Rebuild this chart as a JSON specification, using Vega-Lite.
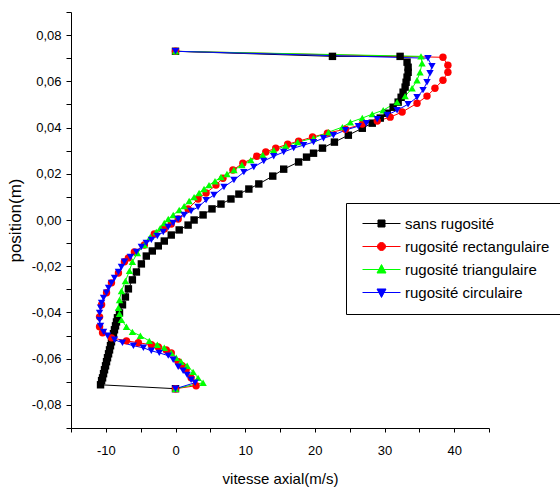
{
"$schema": "https://vega.github.io/schema/vega-lite/v6.json",
"width": 418, "height": 416,
"autosize": {"type": "none"},
"padding": {"left": 71, "top": 12, "right": 71, "bottom": 66},
"background": "white",
"config": {"view": {"stroke": null}, "axis": {"grid": false, "domainColor": "black", "tickColor": "black", "labelColor": "black", "titleColor": "black", "labelFont": "Liberation Sans", "titleFont": "Liberation Sans", "titleFontWeight": "normal"}},
"data": {"values": [
{"s":"sans rugosité","v":0,"p":0.073},
{"s":"sans rugosité","v":22.53,"p":0.0708},
{"s":"sans rugosité","v":32.24,"p":0.0708},
{"s":"sans rugosité","v":33.24,"p":0.0683},
{"s":"sans rugosité","v":33.39,"p":0.0661},
{"s":"sans rugosité","v":33.39,"p":0.0639},
{"s":"sans rugosité","v":33.24,"p":0.0618},
{"s":"sans rugosité","v":33.10,"p":0.0596},
{"s":"sans rugosité","v":32.96,"p":0.0575},
{"s":"sans rugosité","v":32.67,"p":0.0553},
{"s":"sans rugosité","v":32.39,"p":0.0531},
{"s":"sans rugosité","v":31.96,"p":0.0510},
{"s":"sans rugosité","v":31.24,"p":0.0488},
{"s":"sans rugosité","v":30.39,"p":0.0462},
{"s":"sans rugosité","v":29.39,"p":0.0441},
{"s":"sans rugosité","v":28.24,"p":0.0419},
{"s":"sans rugosité","v":26.81,"p":0.0397},
{"s":"sans rugosité","v":24.81,"p":0.0367},
{"s":"sans rugosité","v":22.81,"p":0.0337},
{"s":"sans rugosité","v":21.10,"p":0.0311},
{"s":"sans rugosité","v":19.81,"p":0.0289},
{"s":"sans rugosité","v":18.81,"p":0.0272},
{"s":"sans rugosité","v":17.67,"p":0.0251},
{"s":"sans rugosité","v":15.53,"p":0.0220},
{"s":"sans rugosité","v":13.96,"p":0.0190},
{"s":"sans rugosité","v":11.96,"p":0.0156},
{"s":"sans rugosité","v":10.53,"p":0.0134},
{"s":"sans rugosité","v":9.10,"p":0.0112},
{"s":"sans rugosité","v":7.96,"p":0.0091},
{"s":"sans rugosité","v":6.53,"p":0.0069},
{"s":"sans rugosité","v":5.24,"p":0.0048},
{"s":"sans rugosité","v":3.96,"p":0.0022},
{"s":"sans rugosité","v":2.67,"p":0.0},
{"s":"sans rugosité","v":1.81,"p":-0.0022},
{"s":"sans rugosité","v":0.53,"p":-0.0043},
{"s":"sans rugosité","v":-0.61,"p":-0.0065},
{"s":"sans rugosité","v":-1.61,"p":-0.0091},
{"s":"sans rugosité","v":-2.47,"p":-0.0112},
{"s":"sans rugosité","v":-3.33,"p":-0.0134},
{"s":"sans rugosité","v":-4.19,"p":-0.0156},
{"s":"sans rugosité","v":-4.90,"p":-0.0190},
{"s":"sans rugosité","v":-5.61,"p":-0.0225},
{"s":"sans rugosité","v":-6.19,"p":-0.0259},
{"s":"sans rugosité","v":-6.76,"p":-0.0298},
{"s":"sans rugosité","v":-7.19,"p":-0.0333},
{"s":"sans rugosité","v":-7.61,"p":-0.0367},
{"s":"sans rugosité","v":-8.04,"p":-0.0402},
{"s":"sans rugosité","v":-8.33,"p":-0.0423},
{"s":"sans rugosité","v":-8.47,"p":-0.0441},
{"s":"sans rugosité","v":-8.61,"p":-0.0458},
{"s":"sans rugosité","v":-8.76,"p":-0.0475},
{"s":"sans rugosité","v":-8.90,"p":-0.0492},
{"s":"sans rugosité","v":-9.04,"p":-0.0510},
{"s":"sans rugosité","v":-9.19,"p":-0.0527},
{"s":"sans rugosité","v":-9.33,"p":-0.0544},
{"s":"sans rugosité","v":-9.47,"p":-0.0562},
{"s":"sans rugosité","v":-9.61,"p":-0.0579},
{"s":"sans rugosité","v":-9.76,"p":-0.0596},
{"s":"sans rugosité","v":-9.90,"p":-0.0613},
{"s":"sans rugosité","v":-10.04,"p":-0.0631},
{"s":"sans rugosité","v":-10.19,"p":-0.0648},
{"s":"sans rugosité","v":-10.33,"p":-0.0665},
{"s":"sans rugosité","v":-10.47,"p":-0.0683},
{"s":"sans rugosité","v":-10.61,"p":-0.0695},
{"s":"sans rugosité","v":-10.76,"p":-0.0713},
{"s":"sans rugosité","v":0,"p":-0.073},
{"s":"rugosité rectangulaire","v":0,"p":0.073},
{"s":"rugosité rectangulaire","v":38.39,"p":0.0704},
{"s":"rugosité rectangulaire","v":39.10,"p":0.0670},
{"s":"rugosité rectangulaire","v":39.10,"p":0.0639},
{"s":"rugosité rectangulaire","v":38.39,"p":0.0605},
{"s":"rugosité rectangulaire","v":37.24,"p":0.0570},
{"s":"rugosité rectangulaire","v":36.10,"p":0.0536},
{"s":"rugosité rectangulaire","v":34.67,"p":0.0505},
{"s":"rugosité rectangulaire","v":32.53,"p":0.0467},
{"s":"rugosité rectangulaire","v":30.81,"p":0.0445},
{"s":"rugosité rectangulaire","v":28.96,"p":0.0428},
{"s":"rugosité rectangulaire","v":26.81,"p":0.0415},
{"s":"rugosité rectangulaire","v":24.39,"p":0.0393},
{"s":"rugosité rectangulaire","v":21.81,"p":0.0376},
{"s":"rugosité rectangulaire","v":19.67,"p":0.0359},
{"s":"rugosité rectangulaire","v":17.67,"p":0.0341},
{"s":"rugosité rectangulaire","v":16.10,"p":0.0328},
{"s":"rugosité rectangulaire","v":14.39,"p":0.0311},
{"s":"rugosité rectangulaire","v":12.96,"p":0.0294},
{"s":"rugosité rectangulaire","v":11.67,"p":0.0276},
{"s":"rugosité rectangulaire","v":9.67,"p":0.0246},
{"s":"rugosité rectangulaire","v":8.24,"p":0.0216},
{"s":"rugosité rectangulaire","v":6.81,"p":0.0181},
{"s":"rugosité rectangulaire","v":5.81,"p":0.0151},
{"s":"rugosité rectangulaire","v":4.39,"p":0.0117},
{"s":"rugosité rectangulaire","v":3.24,"p":0.0091},
{"s":"rugosité rectangulaire","v":1.81,"p":0.0048},
{"s":"rugosité rectangulaire","v":0.39,"p":0.0004},
{"s":"rugosité rectangulaire","v":-0.61,"p":-0.0017},
{"s":"rugosité rectangulaire","v":-1.61,"p":-0.0039},
{"s":"rugosité rectangulaire","v":-3.04,"p":-0.0060},
{"s":"rugosité rectangulaire","v":-4.47,"p":-0.0108},
{"s":"rugosité rectangulaire","v":-5.90,"p":-0.0138},
{"s":"rugosité rectangulaire","v":-6.76,"p":-0.0164},
{"s":"rugosité rectangulaire","v":-7.33,"p":-0.0181},
{"s":"rugosité rectangulaire","v":-8.19,"p":-0.0229},
{"s":"rugosité rectangulaire","v":-9.19,"p":-0.0272},
{"s":"rugosité rectangulaire","v":-9.90,"p":-0.0315},
{"s":"rugosité rectangulaire","v":-10.61,"p":-0.0367},
{"s":"rugosité rectangulaire","v":-10.90,"p":-0.0419},
{"s":"rugosité rectangulaire","v":-10.90,"p":-0.0462},
{"s":"rugosité rectangulaire","v":-10.47,"p":-0.0488},
{"s":"rugosité rectangulaire","v":-9.19,"p":-0.0510},
{"s":"rugosité rectangulaire","v":-7.04,"p":-0.0523},
{"s":"rugosité rectangulaire","v":-5.33,"p":-0.0531},
{"s":"rugosité rectangulaire","v":-3.47,"p":-0.0540},
{"s":"rugosité rectangulaire","v":-2.47,"p":-0.0549},
{"s":"rugosité rectangulaire","v":-1.33,"p":-0.0562},
{"s":"rugosité rectangulaire","v":-0.61,"p":-0.0575},
{"s":"rugosité rectangulaire","v":0.39,"p":-0.0613},
{"s":"rugosité rectangulaire","v":0.96,"p":-0.0631},
{"s":"rugosité rectangulaire","v":1.53,"p":-0.0648},
{"s":"rugosité rectangulaire","v":2.24,"p":-0.0683},
{"s":"rugosité rectangulaire","v":2.96,"p":-0.0717},
{"s":"rugosité rectangulaire","v":0,"p":-0.073},
{"s":"rugosité triangulaire","v":0,"p":0.073},
{"s":"rugosité triangulaire","v":35.24,"p":0.0708},
{"s":"rugosité triangulaire","v":35.39,"p":0.0678},
{"s":"rugosité triangulaire","v":35.10,"p":0.0639},
{"s":"rugosité triangulaire","v":34.67,"p":0.0605},
{"s":"rugosité triangulaire","v":33.96,"p":0.0570},
{"s":"rugosité triangulaire","v":32.96,"p":0.0536},
{"s":"rugosité triangulaire","v":31.81,"p":0.0510},
{"s":"rugosité triangulaire","v":29.81,"p":0.0475},
{"s":"rugosité triangulaire","v":28.24,"p":0.0458},
{"s":"rugosité triangulaire","v":26.81,"p":0.0441},
{"s":"rugosité triangulaire","v":25.10,"p":0.0423},
{"s":"rugosité triangulaire","v":23.96,"p":0.0402},
{"s":"rugosité triangulaire","v":21.96,"p":0.0380},
{"s":"rugosité triangulaire","v":19.81,"p":0.0354},
{"s":"rugosité triangulaire","v":17.53,"p":0.0337},
{"s":"rugosité triangulaire","v":15.81,"p":0.0320},
{"s":"rugosité triangulaire","v":14.10,"p":0.0302},
{"s":"rugosité triangulaire","v":12.53,"p":0.0281},
{"s":"rugosité triangulaire","v":10.81,"p":0.0259},
{"s":"rugosité triangulaire","v":9.53,"p":0.0238},
{"s":"rugosité triangulaire","v":8.39,"p":0.0216},
{"s":"rugosité triangulaire","v":7.39,"p":0.0199},
{"s":"rugosité triangulaire","v":6.53,"p":0.0186},
{"s":"rugosité triangulaire","v":5.67,"p":0.0168},
{"s":"rugosité triangulaire","v":4.81,"p":0.0151},
{"s":"rugosité triangulaire","v":4.10,"p":0.0134},
{"s":"rugosité triangulaire","v":3.39,"p":0.0117},
{"s":"rugosité triangulaire","v":2.67,"p":0.0099},
{"s":"rugosité triangulaire","v":1.96,"p":0.0082},
{"s":"rugosité triangulaire","v":1.24,"p":0.0060},
{"s":"rugosité triangulaire","v":0.53,"p":0.0043},
{"s":"rugosité triangulaire","v":-0.33,"p":0.0022},
{"s":"rugosité triangulaire","v":-1.04,"p":0.0004},
{"s":"rugosité triangulaire","v":-1.61,"p":-0.0013},
{"s":"rugosité triangulaire","v":-2.19,"p":-0.0035},
{"s":"rugosité triangulaire","v":-2.76,"p":-0.0052},
{"s":"rugosité triangulaire","v":-3.61,"p":-0.0073},
{"s":"rugosité triangulaire","v":-4.47,"p":-0.0108},
{"s":"rugosité triangulaire","v":-5.47,"p":-0.0143},
{"s":"rugosité triangulaire","v":-6.19,"p":-0.0181},
{"s":"rugosité triangulaire","v":-6.61,"p":-0.0220},
{"s":"rugosité triangulaire","v":-7.19,"p":-0.0264},
{"s":"rugosité triangulaire","v":-7.76,"p":-0.0307},
{"s":"rugosité triangulaire","v":-8.04,"p":-0.0346},
{"s":"rugosité triangulaire","v":-8.19,"p":-0.0380},
{"s":"rugosité triangulaire","v":-8.04,"p":-0.0406},
{"s":"rugosité triangulaire","v":-7.76,"p":-0.0432},
{"s":"rugosité triangulaire","v":-7.04,"p":-0.0462},
{"s":"rugosité triangulaire","v":-6.19,"p":-0.0484},
{"s":"rugosité triangulaire","v":-5.04,"p":-0.0501},
{"s":"rugosité triangulaire","v":-3.76,"p":-0.0523},
{"s":"rugosité triangulaire","v":-2.61,"p":-0.0540},
{"s":"rugosité triangulaire","v":-1.61,"p":-0.0553},
{"s":"rugosité triangulaire","v":-0.61,"p":-0.0575},
{"s":"rugosité triangulaire","v":0.10,"p":-0.0596},
{"s":"rugosité triangulaire","v":0.81,"p":-0.0613},
{"s":"rugosité triangulaire","v":1.67,"p":-0.0631},
{"s":"rugosité triangulaire","v":2.53,"p":-0.0657},
{"s":"rugosité triangulaire","v":3.24,"p":-0.0683},
{"s":"rugosité triangulaire","v":3.96,"p":-0.0704},
{"s":"rugosité triangulaire","v":0,"p":-0.073},
{"s":"rugosité circulaire","v":0,"p":0.073},
{"s":"rugosité circulaire","v":36.24,"p":0.0700},
{"s":"rugosité circulaire","v":36.81,"p":0.0665},
{"s":"rugosité circulaire","v":36.53,"p":0.0635},
{"s":"rugosité circulaire","v":36.10,"p":0.0596},
{"s":"rugosité circulaire","v":35.53,"p":0.0562},
{"s":"rugosité circulaire","v":34.67,"p":0.0531},
{"s":"rugosité circulaire","v":33.39,"p":0.0501},
{"s":"rugosité circulaire","v":31.81,"p":0.0475},
{"s":"rugosité circulaire","v":30.39,"p":0.0454},
{"s":"rugosité circulaire","v":28.96,"p":0.0436},
{"s":"rugosité circulaire","v":27.39,"p":0.0419},
{"s":"rugosité circulaire","v":26.24,"p":0.0406},
{"s":"rugosité circulaire","v":24.39,"p":0.0389},
{"s":"rugosité circulaire","v":22.67,"p":0.0367},
{"s":"rugosité circulaire","v":21.24,"p":0.0354},
{"s":"rugosité circulaire","v":19.81,"p":0.0337},
{"s":"rugosité circulaire","v":18.39,"p":0.0324},
{"s":"rugosité circulaire","v":16.96,"p":0.0311},
{"s":"rugosité circulaire","v":15.53,"p":0.0294},
{"s":"rugosité circulaire","v":14.10,"p":0.0276},
{"s":"rugosité circulaire","v":12.67,"p":0.0255},
{"s":"rugosité circulaire","v":11.24,"p":0.0229},
{"s":"rugosité circulaire","v":9.81,"p":0.0207},
{"s":"rugosité circulaire","v":8.39,"p":0.0173},
{"s":"rugosité circulaire","v":6.96,"p":0.0143},
{"s":"rugosité circulaire","v":5.53,"p":0.0108},
{"s":"rugosité circulaire","v":4.39,"p":0.0086},
{"s":"rugosité circulaire","v":3.24,"p":0.0056},
{"s":"rugosité circulaire","v":2.24,"p":0.0039},
{"s":"rugosité circulaire","v":1.24,"p":0.0022},
{"s":"rugosité circulaire","v":0.39,"p":0.0004},
{"s":"rugosité circulaire","v":-0.33,"p":-0.0013},
{"s":"rugosité circulaire","v":-1.04,"p":-0.0030},
{"s":"rugosité circulaire","v":-1.76,"p":-0.0052},
{"s":"rugosité circulaire","v":-2.61,"p":-0.0069},
{"s":"rugosité circulaire","v":-3.47,"p":-0.0086},
{"s":"rugosité circulaire","v":-4.19,"p":-0.0099},
{"s":"rugosité circulaire","v":-4.90,"p":-0.0117},
{"s":"rugosité circulaire","v":-5.61,"p":-0.0138},
{"s":"rugosité circulaire","v":-6.47,"p":-0.0160},
{"s":"rugosité circulaire","v":-7.33,"p":-0.0181},
{"s":"rugosité circulaire","v":-7.76,"p":-0.0203},
{"s":"rugosité circulaire","v":-8.19,"p":-0.0225},
{"s":"rugosité circulaire","v":-8.76,"p":-0.0251},
{"s":"rugosité circulaire","v":-9.19,"p":-0.0272},
{"s":"rugosité circulaire","v":-9.61,"p":-0.0294},
{"s":"rugosité circulaire","v":-9.90,"p":-0.0315},
{"s":"rugosité circulaire","v":-10.33,"p":-0.0337},
{"s":"rugosité circulaire","v":-10.61,"p":-0.0359},
{"s":"rugosité circulaire","v":-10.76,"p":-0.0380},
{"s":"rugosité circulaire","v":-10.90,"p":-0.0402},
{"s":"rugosité circulaire","v":-10.90,"p":-0.0432},
{"s":"rugosité circulaire","v":-10.76,"p":-0.0458},
{"s":"rugosité circulaire","v":-10.33,"p":-0.0484},
{"s":"rugosité circulaire","v":-9.76,"p":-0.0501},
{"s":"rugosité circulaire","v":-8.76,"p":-0.0518},
{"s":"rugosité circulaire","v":-7.61,"p":-0.0531},
{"s":"rugosité circulaire","v":-6.04,"p":-0.0544},
{"s":"rugosité circulaire","v":-4.61,"p":-0.0553},
{"s":"rugosité circulaire","v":-3.47,"p":-0.0566},
{"s":"rugosité circulaire","v":-2.33,"p":-0.0575},
{"s":"rugosité circulaire","v":-1.04,"p":-0.0587},
{"s":"rugosité circulaire","v":-0.33,"p":-0.0605},
{"s":"rugosité circulaire","v":0.39,"p":-0.0635},
{"s":"rugosité circulaire","v":1.10,"p":-0.0652},
{"s":"rugosité circulaire","v":1.67,"p":-0.0670},
{"s":"rugosité circulaire","v":2.24,"p":-0.0691},
{"s":"rugosité circulaire","v":2.81,"p":-0.0704},
{"s":"rugosité circulaire","v":0,"p":-0.073}
]},
"encoding": {
"x": {"field": "v", "type": "quantitative", "scale": {"domain": [-15, 45], "nice": false, "zero": false},
 "axis": {"values": [-15,-10,-5,0,5,10,15,20,25,30,35,40,45], "labelExpr": "datum.value % 10 == 0 ? (datum.value < 0 ? '-' : '') + format(abs(datum.value), 'd') : ''", "title": "vitesse axial(m/s)", "tickSize": 4, "labelFontSize": 13, "labelPadding": 12, "titleFontSize": 15, "titlePadding": 14, "labelFlush": false}},
"y": {"field": "p", "type": "quantitative", "scale": {"domain": [-0.09, 0.09], "nice": false, "zero": false},
 "axis": {"values": [-0.09,-0.08,-0.07,-0.06,-0.05,-0.04,-0.03,-0.02,-0.01,0,0.01,0.02,0.03,0.04,0.05,0.06,0.07,0.08,0.09], "labelExpr": "abs(round(datum.value*100)) % 2 == 0 ? (datum.value < -0.001 ? '-' : '') + replace(format(abs(datum.value), '.2f'), '.', ',') : ''", "title": "position(m)", "tickSize": 5, "labelFontSize": 13, "labelPadding": 5, "titleFontSize": 17, "titlePadding": 7, "labelFlush": false}}
},
"layer": [
{"mark": {"type": "line", "strokeWidth": 1},
 "encoding": {
  "color": {"field": "s", "type": "nominal", "scale": {"domain": ["sans rugosité", "rugosité rectangulaire", "rugosité triangulaire", "rugosité circulaire"], "range": ["#000000", "#ff0000", "#00ff00", "#0000ff"]}, "legend": null},
  "order": {"value": null}}},
{"mark": {"type": "point", "filled": true, "size": 55, "opacity": 1},
 "encoding": {
  "color": {"field": "s", "type": "nominal", "scale": {"domain": ["sans rugosité", "rugosité rectangulaire", "rugosité triangulaire", "rugosité circulaire"], "range": ["#000000", "#ff0000", "#00ff00", "#0000ff"]}, "legend": null},
  "shape": {"field": "s", "type": "nominal", "scale": {"domain": ["sans rugosité", "rugosité rectangulaire", "rugosité triangulaire", "rugosité circulaire"], "range": ["square", "circle", "triangle-up", "triangle-down"]}, "legend": null}}},
{"transform": [{"filter": "false"}],
 "mark": {"type": "point", "filled": true, "size": 81, "opacity": 1, "strokeWidth": 1},
 "encoding": {
  "color": {"field": "s", "type": "nominal", "scale": {"domain": ["sans rugosité", "rugosité rectangulaire", "rugosité triangulaire", "rugosité circulaire"], "range": ["#000000", "#ff0000", "#00ff00", "#0000ff"]},
   "legend": {"title": null, "orient": "none", "legendX": 275, "legendY": 191, "strokeColor": "black", "fillColor": "white", "padding": 13, "labelFont": "Liberation Sans", "labelFontSize": 15, "labelColor": "black", "labelLimit": 400, "rowPadding": 7, "symbolSize": 81, "symbolOffset": 15, "labelOffset": 16, "symbolStrokeWidth": 1, "symbolOpacity": 1}},
  "stroke": {"field": "s", "type": "nominal", "scale": {"domain": ["sans rugosité", "rugosité rectangulaire", "rugosité triangulaire", "rugosité circulaire"], "range": ["#000000", "#ff0000", "#00ff00", "#0000ff"]},
   "legend": {"title": null, "orient": "none", "legendX": 275, "legendY": 191, "strokeColor": "black", "fillColor": "white", "padding": 13, "labelFont": "Liberation Sans", "labelFontSize": 15, "labelColor": "black", "labelLimit": 400, "rowPadding": 7, "symbolSize": 81, "symbolOffset": 15, "labelOffset": 16, "symbolStrokeWidth": 1, "symbolOpacity": 1}},
  "shape": {"field": "s", "type": "nominal", "scale": {"domain": ["sans rugosité", "rugosité rectangulaire", "rugosité triangulaire", "rugosité circulaire"], "range": ["M-4.22,0H4.22M-0.78,-0.78H0.78V0.78H-0.78Z", "M-4.22,0H4.22M-0.89,0A0.89,0.89,0,1,1,0.89,0A0.89,0.89,0,1,1,-0.89,0Z", "M-4.22,0H4.22M0,-1.1L1,0.78L-1,0.78Z", "M-4.22,0H4.22M0,1.1L1,-0.78L-1,-0.78Z"]},
   "legend": {"title": null, "orient": "none", "legendX": 275, "legendY": 191, "strokeColor": "black", "fillColor": "white", "padding": 13, "labelFont": "Liberation Sans", "labelFontSize": 15, "labelColor": "black", "labelLimit": 400, "rowPadding": 7, "symbolSize": 81, "symbolOffset": 15, "labelOffset": 16, "symbolStrokeWidth": 1, "symbolOpacity": 1}}}}
],
"resolve": {"scale": {"color": "independent", "shape": "independent", "stroke": "independent"}}
}
